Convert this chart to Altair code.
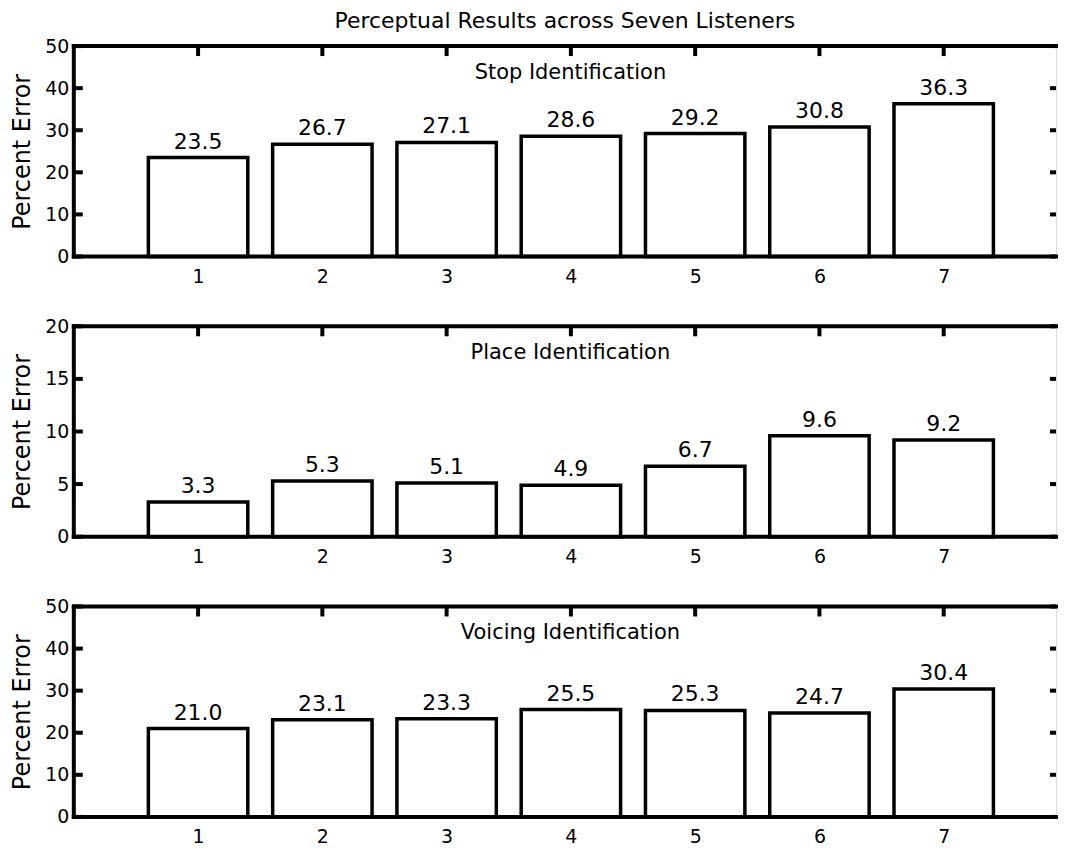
import altair as alt
import pandas as pd

# ---- data ----
listeners = [1, 2, 3, 4, 5, 6, 7]
stop_err = [23.5, 26.7, 27.1, 28.6, 29.2, 30.8, 36.3]
place_err = [3.3, 5.3, 5.1, 4.9, 6.7, 9.6, 9.2]
voicing_err = [21.0, 23.1, 23.3, 25.5, 25.3, 24.7, 30.4]

stop_ticks = [0, 10, 20, 30, 40, 50]
place_ticks = [0, 5, 10, 15, 20]
voicing_ticks = [0, 10, 20, 30, 40, 50]

main_title = "Perceptual Results across Seven Listeners"
subtitles = ["Stop Identification", "Place Identification", "Voicing Identification"]
y_title = "Percent Error"

# ---- layout / style ----
W = 985
H = 211
XMAX = W / 124.625
FONT = "DejaVu Sans"
LW = 4


def x_enc(field):
    return alt.X(
        field,
        scale=alt.Scale(domain=[0, XMAX], nice=False, zero=False),
        axis=alt.Axis(values=listeners, format="d", title=None, labelPadding=11,
                      labelFontSize=19, labelFont=FONT, labelColor="black",
                      domain=False, ticks=False, grid=False, labelFlush=False),
    )


def y_enc(field, ymax, ticks):
    return alt.Y(
        field,
        scale=alt.Scale(domain=[0, ymax], nice=False),
        axis=alt.Axis(values=ticks, format="d", title=y_title, titleFontSize=24,
                      titleFont=FONT, titleFontWeight="normal", titleColor="black",
                      titlePadding=6, labelPadding=5, labelFontSize=19, labelFont=FONT,
                      labelColor="black", minExtent=33, maxExtent=33,
                      domain=False, ticks=False, grid=False),
    )


def panel(values, ymax, ticks, subtitle, title=None):
    df = pd.DataFrame({"listener": listeners, "value": values})
    tdf = pd.DataFrame({"v": ticks})
    one = pd.DataFrame({"t": [subtitle]})

    bars = alt.Chart(df).transform_calculate(
        x0="datum.listener - 0.4", x1="datum.listener + 0.4"
    ).mark_rect(fill="white", stroke="black", strokeWidth=3.5).encode(
        x=x_enc("x0:Q"), x2="x1:Q", y=y_enc("value:Q", ymax, ticks), y2=alt.datum(0)
    )
    labels = alt.Chart(df).mark_text(
        baseline="alphabetic", dy=-9, fontSize=22, font=FONT, color="black"
    ).encode(
        x=x_enc("listener:Q"), y=y_enc("value:Q", ymax, ticks),
        text=alt.Text("value:Q", format=".1f"),
    )
    sub = alt.Chart(one).mark_text(
        baseline="middle", align="center", fontSize=21, font=FONT, color="black"
    ).encode(text="t:N", x=alt.value(498), y=alt.value(27))

    frame_top = alt.Chart(one).mark_rule(strokeWidth=LW, color="black", strokeCap="square").encode(
        x=alt.value(0), x2=alt.value(W), y=alt.value(0))
    frame_left = alt.Chart(one).mark_rule(strokeWidth=LW, color="black", strokeCap="square").encode(
        x=alt.value(0), y=alt.value(0), y2=alt.value(H))
    frame_bot = alt.Chart(one).mark_rule(strokeWidth=LW, color="black", strokeCap="square").encode(
        x=alt.value(0), x2=alt.value(W), y=alt.value(H))

    left_ticks = alt.Chart(tdf).mark_rule(strokeWidth=LW, color="black").encode(
        x=alt.value(0), x2=alt.value(9), y=y_enc("v:Q", ymax, ticks))
    right_ticks = alt.Chart(tdf).mark_rule(strokeWidth=LW, color="black").encode(
        x=alt.value(W - 6), x2=alt.value(W), y=y_enc("v:Q", ymax, ticks))
    top_ticks = alt.Chart(df).mark_rule(strokeWidth=LW, color="black").encode(
        x=x_enc("listener:Q"), y=alt.value(0), y2=alt.value(10))

    layer = alt.layer(
        left_ticks, right_ticks, top_ticks, bars, labels, sub, frame_top, frame_left, frame_bot
    ).properties(width=W, height=H)
    if title is not None:
        layer = layer.properties(title=title)
    return layer


t = alt.TitleParams(main_title, fontSize=22, font=FONT, fontWeight="normal",
                    anchor="middle", frame="group", offset=4, color="black")

p1 = panel(stop_err, 50, stop_ticks, subtitles[0], title=t)
p2 = panel(place_err, 20, place_ticks, subtitles[1])
p3 = panel(voicing_err, 50, voicing_ticks, subtitles[2])

chart = alt.vconcat(p1, p2, p3, spacing=70, bounds="flush").properties(
    padding={"left": 2, "top": 0, "right": 0, "bottom": 0}
).configure_view(strokeWidth=0).configure(background="white")

chart.save("out.html", embed_options={"renderer": "svg", "actions": False})
